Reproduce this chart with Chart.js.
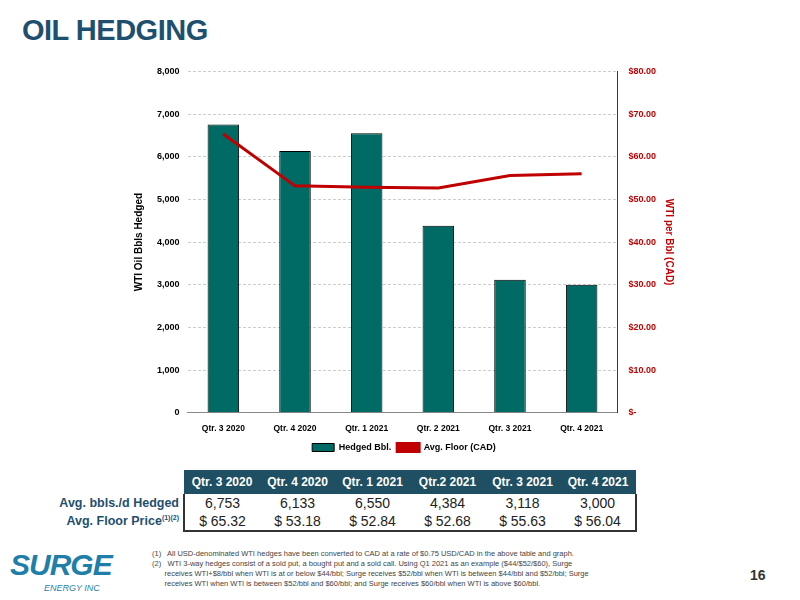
<!DOCTYPE html>
<html><head><meta charset="utf-8">
<script src="https://cdn.jsdelivr.net/npm/chart.js@4"></script>
<style>
body{margin:0;width:800px;height:600px;background:#fff;font-family:"Liberation Sans",Arial,sans-serif;position:relative;overflow:hidden}
#title{position:absolute;left:22px;top:14px;font-size:29px;font-weight:bold;color:#1f4f6e;letter-spacing:-0.5px}
#wrap{position:absolute;left:129px;top:58px;width:554px;height:404px}
table{position:absolute;left:0;top:470px;border-collapse:collapse;font-size:14px}
.hd td{background:#1f4f63;color:#fff;font-weight:bold;font-size:12px;height:22px;text-align:center}
.lab{color:#1f4f6e;font-weight:bold;text-align:right;padding-right:4px;width:178px;font-size:12.5px}
.v{text-align:center;width:73px;color:#222}
#notes{position:absolute;left:152px;top:549px;font-size:7.5px;color:#444;line-height:10px;width:460px}
#pg{position:absolute;left:750px;top:567px;font-size:14px;font-weight:bold;color:#333}
#logo{position:absolute;left:10px;top:548px;color:#1f7fa8;font-style:italic;font-weight:bold;font-size:30px;letter-spacing:-1px}
#logo2{position:absolute;left:44px;top:583px;color:#1f7fa8;font-style:italic;font-size:9px}
</style></head><body>
<div id="title">OIL HEDGING</div>
<div id="wrap"><canvas id="c"></canvas></div>
<table>
<tr class="hd"><td style="background:#fff"></td><td>Qtr. 3 2020</td><td>Qtr. 4 2020</td><td>Qtr. 1 2021</td><td>Qtr.2 2021</td><td>Qtr. 3 2021</td><td>Qtr. 4 2021</td></tr>
<tr><td class="lab">Avg. bbls./d Hedged</td><td class="v" style="border-left:2px solid #333">6,753</td><td class="v">6,133</td><td class="v">6,550</td><td class="v">4,384</td><td class="v">3,118</td><td class="v" style="border-right:2px solid #333">3,000</td></tr>
<tr><td class="lab">Avg. Floor Price<sup style="font-size:7px">(1)(2)</sup></td><td class="v" style="border-left:2px solid #333;border-bottom:2px solid #333">$ 65.32</td><td class="v" style="border-bottom:2px solid #333">$ 53.18</td><td class="v" style="border-bottom:2px solid #333">$ 52.84</td><td class="v" style="border-bottom:2px solid #333">$ 52.68</td><td class="v" style="border-bottom:2px solid #333">$ 55.63</td><td class="v" style="border-right:2px solid #333;border-bottom:2px solid #333">$ 56.04</td></tr>
</table>
<div id="logo">SURGE</div><div id="logo2">ENERGY INC</div>
<div id="notes">(1)&nbsp;&nbsp; All USD-denominated WTI hedges have been converted to CAD at a rate of $0.75 USD/CAD in the above table and graph.<br>(2)&nbsp;&nbsp; WTI 3-way hedges consist of a sold put, a bought put and a sold call. Using Q1 2021 as an example ($44/$52/$60), Surge<br>&nbsp;&nbsp;&nbsp;&nbsp;&nbsp;&nbsp;receives WTI+$8/bbl when WTI is at or below $44/bbl; Surge receives $52/bbl when WTI is between $44/bbl and $52/bbl; Surge<br>&nbsp;&nbsp;&nbsp;&nbsp;&nbsp;&nbsp;receives WTI when WTI is between $52/bbl and $60/bbl; and Surge receives $60/bbl when WTI is above $60/bbl.</div>
<div id="pg">16</div>
<script>
const categories=["Qtr. 3 2020","Qtr. 4 2020","Qtr. 1 2021","Qtr. 2 2021","Qtr. 3 2021","Qtr. 4 2021"];
const hedged=[6753,6133,6550,4384,3118,3000];
const floorPrice=[65.32,53.18,52.84,52.68,55.63,56.04];
Chart.defaults.font.family='"Liberation Sans",Arial,sans-serif';
Chart.defaults.font.size=9;
Chart.defaults.font.weight='bold';
Chart.defaults.color='#000';
new Chart(document.getElementById('c'),{
data:{labels:categories,datasets:[
{type:'line',label:'Avg. Floor (CAD)',data:floorPrice,yAxisID:'y1',borderColor:'#c00000',backgroundColor:'#c00000',borderWidth:3,pointRadius:0,tension:0,order:0},
{type:'bar',label:'Hedged Bbl.',data:hedged,yAxisID:'y',backgroundColor:'#006a64',borderColor:'#000',borderWidth:1,categoryPercentage:0.8,barPercentage:0.55,order:1}
]},
options:{responsive:true,maintainAspectRatio:false,animation:false,
layout:{padding:{top:6,right:4}},
plugins:{legend:{position:'bottom',reverse:true,labels:{boxWidth:22,boxHeight:8,padding:6,font:{size:9,weight:'bold'}}},tooltip:{enabled:false}},
scales:{
x:{grid:{display:false},border:{color:'#888'},ticks:{font:{size:8.5,weight:'bold'}}},
y:{min:0,max:8000,ticks:{stepSize:1000,callback:v=>v.toLocaleString('en-US'),padding:8},grid:{color:'#ccc',drawTicks:false,lineWidth:1},border:{display:false,dash:[3,2]},title:{display:true,text:'WTI Oil Bbls Hedged',font:{size:10,weight:'bold'}}},
y1:{position:'right',min:0,max:80,ticks:{stepSize:10,color:'#c00000',callback:v=>v===0?'$-':'$'+v.toFixed(2)},grid:{display:false,color:'#c00000'},border:{color:'#c00000'},title:{display:true,text:'WTI per Bbl (CAD)',color:'#c00000',font:{size:10,weight:'bold'}}}
}}});
</script>
</body></html>
